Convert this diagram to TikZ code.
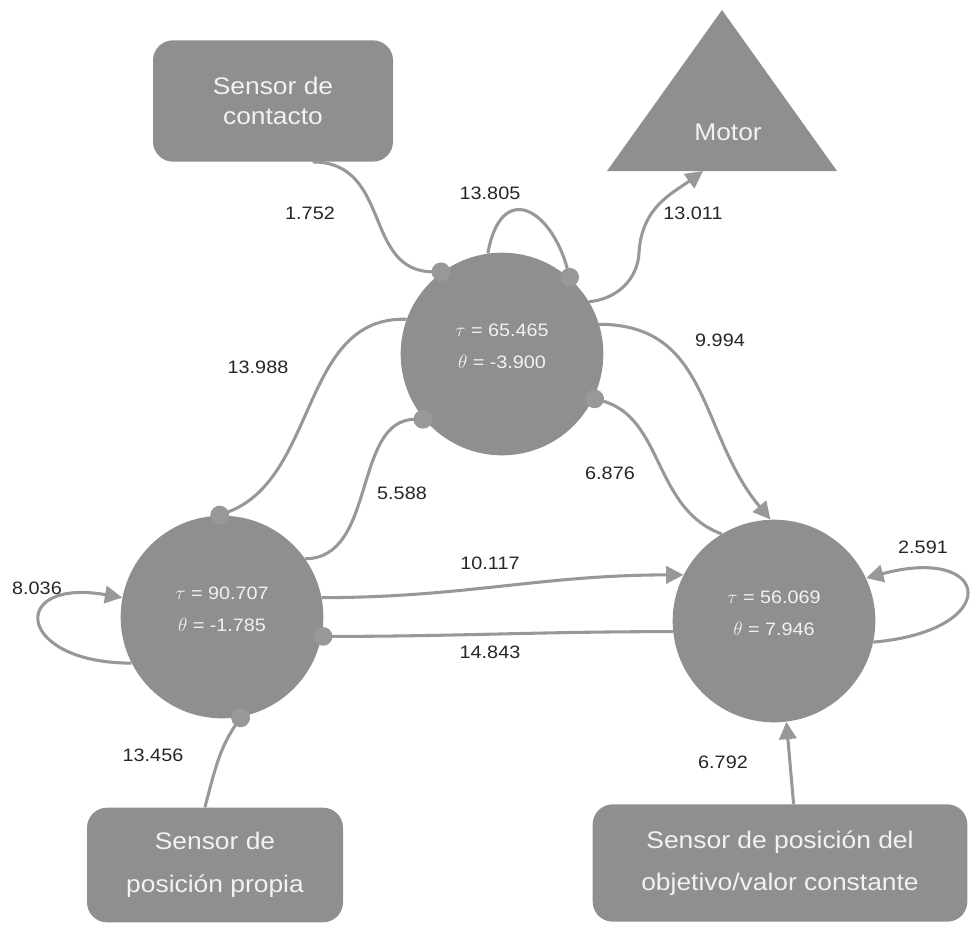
\documentclass[tikz,border=0pt]{standalone}
\usepackage{fontspec}
\setmainfont{Liberation Sans}[FakeStretch=1.1]
\usetikzlibrary{arrows.meta}
\definecolor{cajagris}{RGB}{143,143,143}
\definecolor{lineagris}{RGB}{152,152,152}
\definecolor{textoclaro}{RGB}{242,242,242}
\newcommand{\valores}[2]{\raisebox{6pt}[\height][\depth]{\begin{tabular}{@{}c@{}}#1\\#2\end{tabular}}}
\begin{document}
\begin{tikzpicture}[x=0.75pt,y=0.75pt,
  neurona/.style={circle,fill=cajagris,minimum size=152pt,inner sep=0pt,text=textoclaro,align=center,font=\fontsize{13.5}{24}\selectfont},
  sensor/.style={rounded corners=15pt,fill=cajagris,text=textoclaro,align=center,inner sep=0pt,font=\fontsize{18}{22}\selectfont},
  peso/.style={text=black!85,font=\fontsize{13.5}{16}\selectfont},
  con/.style={draw=lineagris,line width=2.3pt},
  exc/.style={con,-{Triangle[length=13pt,width=13pt]}},
  inh/.style={con,-{Circle[length=14pt]},shorten >=-6pt}]
\useasboundingbox (0,0) rectangle (972,-926);
% sensores y motor
\node[sensor,minimum width=180pt,minimum height=91pt] (scontacto) at (273,-101) {Sensor de\\contacto};
\node[sensor,minimum width=192pt,minimum height=86pt] (spropia) at (215,-865) {Sensor de\\[10pt]posición propia};
\node[sensor,minimum width=281pt,minimum height=88pt] (sobjetivo) at (780,-863) {Sensor de posición del\\[10pt]objetivo/valor constante};
\coordinate (mapex) at (722,-10);
\coordinate (mizq) at (607,-171);
\coordinate (mder) at (837,-171);
\coordinate (mentrada) at (703,-171);
\fill[cajagris] (mapex) -- (mder) -- (mizq) -- cycle;
\node[text=textoclaro,font=\fontsize{18}{22}\selectfont] (motor) at (728,-132) {Motor};
% neuronas
\node[neurona] (nsup) at (502,-354) {\valores{$\tau$ = 65.465}{$\theta$ = -3.900}};
\node[neurona] (nizq) at (222,-617) {\valores{$\tau$ = 90.707}{$\theta$ = -1.785}};
\node[neurona] (nder) at (774,-621) {\valores{$\tau$ = 56.069}{$\theta$ = 7.946}};
% conexiones
\draw[inh] (scontacto.-57) to[out=0,in=180,looseness=1.2] (nsup.126);
\draw[inh] (nsup.98) to[out=80,in=105,looseness=2.2] (nsup.48);
\draw[exc] (nsup.31) to[out=5,in=-92] ++(50,50) .. controls +(3,45) and +(-30,-22) .. (mentrada);
\draw[inh] (nsup.160) to[out=178,in=20] (nizq.92);
\draw[inh] (nizq.35) to[out=0,in=180] (nsup.220);
\draw[exc] (nsup.17) to[out=0,in=130,looseness=1.1] (nder.92);
\draw[inh] (nder.121) to[out=160,in=-15] (nsup.-26);
\draw[exc] (nizq.11) to[out=0,in=180] (nder.153);
\draw[inh] (nder.186) to[out=180,in=0] (nizq.349);
\draw[exc] (nizq.207) to[out=180,in=170,looseness=4.5] (nizq.169);
\draw[exc] (nder.-12) to[out=5,in=15,looseness=5.2] (nder.25);
\draw[inh] (spropia.100) to[out=75,in=235] (nizq.281);
\draw[exc] (sobjetivo.77) to[out=95,in=275] (nder.277);
% pesos
\node[peso] (w1) at (310,-213) {1.752};
\node[peso] (w2) at (490,-193) {13.805};
\node[peso] (w3) at (693,-213) {13.011};
\node[peso] (w4) at (258,-367) {13.988};
\node[peso] (w5) at (402,-493) {5.588};
\node[peso] (w6) at (720,-340) {9.994};
\node[peso] (w7) at (610,-473) {6.876};
\node[peso] (w8) at (490,-563) {10.117};
\node[peso] (w9) at (490,-652) {14.843};
\node[peso] (w10) at (37,-588) {8.036};
\node[peso] (w11) at (923,-547) {2.591};
\node[peso] (w12) at (153,-755) {13.456};
\node[peso] (w13) at (723,-762) {6.792};
\end{tikzpicture}
\end{document}
